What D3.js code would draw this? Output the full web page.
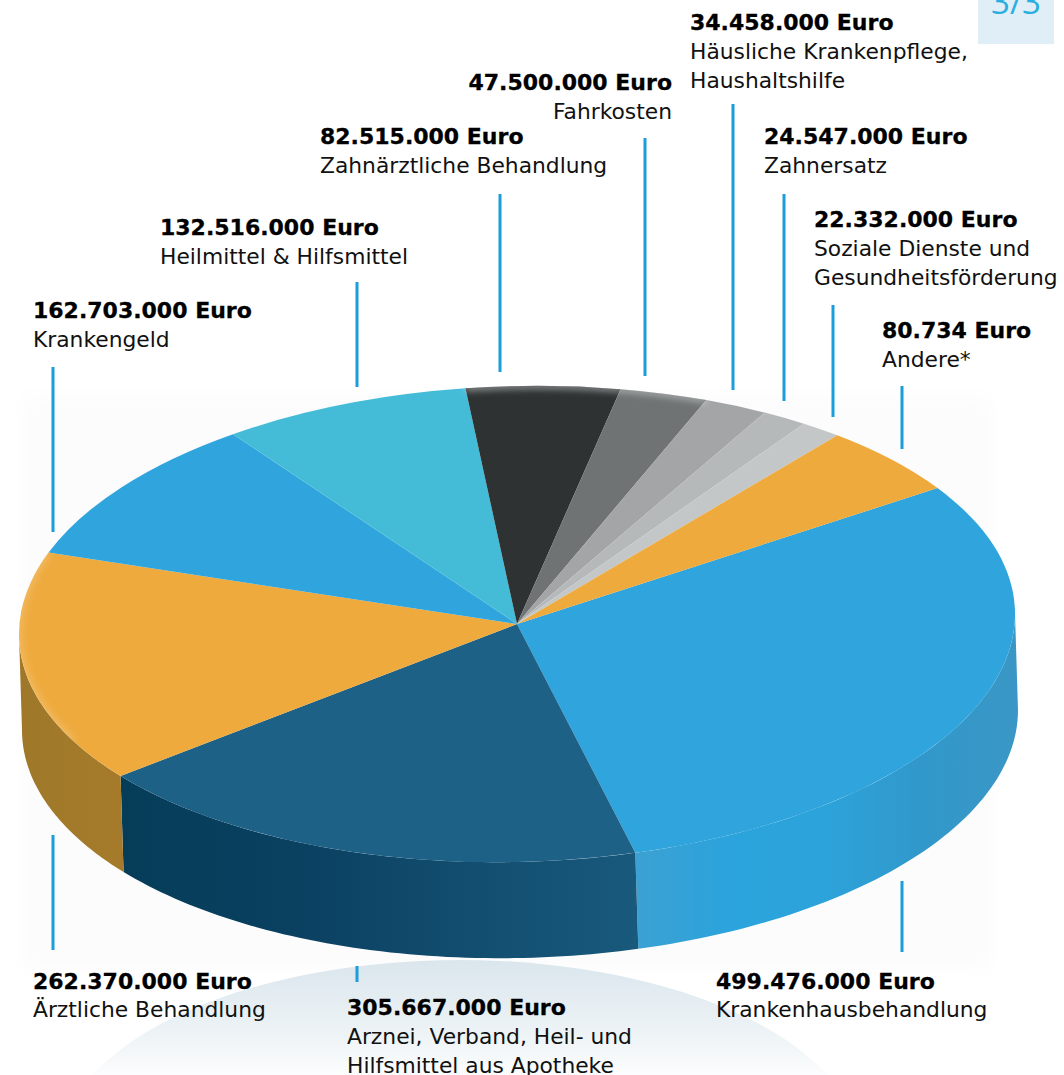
<!DOCTYPE html>
<html><head><meta charset="utf-8">
<script src="https://cdn.jsdelivr.net/npm/d3@7"></script>
<style>html,body{margin:0;padding:0;background:#fff}svg{display:block}
text{font-family:"DejaVu Sans",sans-serif;font-size:21.8px;fill:#111}
.v{font-weight:700;fill:#000;font-size:22px;stroke:#000;stroke-width:.3px}</style></head><body>
<svg id="c" width="1064" height="1075"></svg>
<script>
const amounts=["499.476.000 Euro","305.667.000 Euro","262.370.000 Euro","162.703.000 Euro","132.516.000 Euro","82.515.000 Euro","47.500.000 Euro","34.458.000 Euro","24.547.000 Euro","22.332.000 Euro","80.734 Euro"];
const categories=[["Krankenhausbehandlung"],["Arznei, Verband, Heil- und","Hilfsmittel aus Apotheke"],["Ärztliche Behandlung"],["Krankengeld"],["Heilmittel & Hilfsmittel"],["Zahnärztliche Behandlung"],["Fahrkosten"],["Häusliche Krankenpflege,","Haushaltshilfe"],["Zahnersatz"],["Soziale Dienste und","Gesundheitsförderung"],["Andere*"]];
// slice sizes in thousand euro, in clockwise drawing order
const sliceValues=[499476,305667,262370,162703,132516,82515,47500,34458,24547,22332,80734];
const topColors=["#2fa4dd","#1e6187","#eeaa3d","#2fa4dd","#44bcd8","#2e3233","#6f7373","#a3a5a6","#b6b9ba","#c4c7c8","#eeaa3d"];
// side wall colours, right to left along the visible rim
const wallStops={0:["#3a97c5","#3198cb","#2ca3da","#2ba3dc","#3ca1d2"],1:["#18597c","#124d6f","#0a4060","#053d59"],2:["#a57b2b","#a27a2a","#9f7729"]};
const labelX=[716,347,33,33,160,320,672,690,764,814,882];
const labelY=[989,1015,989,318,235,144,90,30,144,227,338];
const lineGap=[28,29,28,29,29,29,29,29,29,29,29];
const labelAnchor=["start","start","start","start","start","start","end","start","start","start","start"];
const leaderX=[902,357,53,53,357,500,645,733,784,833,902];
const leaderY1=[881,966,835,367,282,194,138,104,194,305,386];
const leaderY2=[952,982,950,532,387,372,376,390,401,417,449];
const rimOpacity={5:.42,6:.36,2:.18};

const svg=d3.select("#c");
const cx=517,cy=624,rx=498,ry=238,depth=96,slant=3,tilt=0.02;
const startAngle=57.6*Math.PI/180;
const defs=svg.append("defs");
const sx=d3.scaleLinear().domain([-1,1]).range([cx-rx,cx+rx]);
const sy=d3.scaleLinear().domain([-1,1]).range([cy-ry,cy+ry]);
const px=a=>sx(Math.sin(a)), py=a=>sy(-Math.cos(a))-tilt*(px(a)-cx);
defs.append("filter").attr("id","b10").attr("x","-10%").attr("y","-10%").attr("width","120%").attr("height","120%").append("feGaussianBlur").attr("stdDeviation",10);
defs.append("filter").attr("id","b3").attr("filterUnits","userSpaceOnUse").attr("x",0).attr("y",300).attr("width",1064).attr("height",500).append("feGaussianBlur").attr("stdDeviation",3);

// faint haze behind the pie
svg.append("rect").attr("x",22).attr("y",395).attr("width",970).attr("height",575).attr("fill","#fcfcfd").attr("filter","url(#b10)");
// soft reflection below the pie
const g1=defs.append("linearGradient").attr("id","refl").attr("gradientUnits","userSpaceOnUse").attr("x1",0).attr("y1",960).attr("x2",0).attr("y2",1085);
g1.append("stop").attr("offset",0).attr("stop-color","#dae6ed");
g1.append("stop").attr("offset",0.55).attr("stop-color","#ecf2f5");
g1.append("stop").attr("offset",1).attr("stop-color","#ffffff");
svg.append("ellipse").attr("cx",460).attr("cy",1150).attr("rx",400).attr("ry",190).attr("fill","url(#refl)");
// box top right
svg.append("rect").attr("x",978).attr("y",0).attr("width",76).attr("height",44).attr("fill","#e0eef8");
svg.append("text").attr("x",1016).attr("y",14).attr("text-anchor","middle").style("font-size","33px").style("font-family","'Open Sans',sans-serif").style("fill","#2aaee2").text("3/3");

const pie=d3.pie().sort(null).startAngle(startAngle).endAngle(startAngle+2*Math.PI);
const arcs=pie(sliceValues);

// side wall
const wall=svg.append("g");
arcs.forEach((d,i)=>{
  const a0=Math.max(d.startAngle,Math.PI/2), a1=Math.min(d.endAngle,Math.PI*1.5);
  if(a1<=a0) return;
  const pts=d3.range(0,61).map(k=>a0+(a1-a0)*k/60);
  const id="w"+i;
  const g=defs.append("linearGradient").attr("id",id).attr("gradientUnits","userSpaceOnUse")
    .attr("x1",px(a0)).attr("x2",px(a1)).attr("y1",0).attr("y2",0);
  const stops=wallStops[i];
  stops.forEach((c,k)=>g.append("stop").attr("offset",k/(stops.length-1)).attr("stop-color",c));
  const top=pts.map(a=>[px(a),py(a)]), bot=pts.slice().reverse().map(a=>[px(a)+slant,py(a)+depth]);
  wall.append("path").attr("d",d3.line()(top.concat(bot))+"Z").attr("fill",`url(#${id})`);
});
// top face
const R=100;
const arc=d3.arc().innerRadius(0).outerRadius(R);
const face=svg.append("g").attr("transform",`matrix(${rx/R},${-tilt*rx/R},0,${ry/R},${cx},${cy})`);
face.selectAll("path").data(arcs).join("path").attr("d",arc).attr("fill",(d,i)=>topColors[i]);
// soft light along the far rim of some slices, clipped to the face
defs.append("clipPath").attr("id","faceClip").append("path").attr("d",d3.line()(d3.range(0,361).map(k=>{const a=k*Math.PI/180;return [px(a),py(a)];}))+"Z");
const rimG=svg.append("g").attr("clip-path","url(#faceClip)");
Object.keys(rimOpacity).forEach(i=>{
  const d=arcs[+i];
  const from=+i===2?Math.max(d.startAngle,1.35*Math.PI):d.startAngle;
  const pts=d3.range(0,41).map(k=>{const a=from+(d.endAngle-from)*k/40;return [px(a),py(a)];});
  rimG.append("path").attr("d",d3.line()(pts)).attr("fill","none").attr("stroke","#fff")
    .attr("stroke-opacity",rimOpacity[i]).attr("stroke-width",7).attr("filter","url(#b3)");
});

// leaders
svg.append("g").selectAll("line").data(d3.range(leaderX.length)).join("line")
  .attr("x1",i=>leaderX[i]).attr("x2",i=>leaderX[i]).attr("y1",i=>leaderY1[i]).attr("y2",i=>leaderY2[i])
  .attr("stroke","#1b9ddb").attr("stroke-width",3);
// labels
const lab=svg.append("g");
amounts.forEach((t,i)=>{
  const anchor=labelAnchor[i];
  lab.append("text").attr("class","v").attr("x",labelX[i]).attr("y",labelY[i]).attr("text-anchor",anchor).text(t);
  categories[i].forEach((c,j)=>lab.append("text").attr("x",labelX[i]).attr("y",labelY[i]+lineGap[i]*(j+1)).attr("text-anchor",anchor).text(c));
});
</script></body></html>
